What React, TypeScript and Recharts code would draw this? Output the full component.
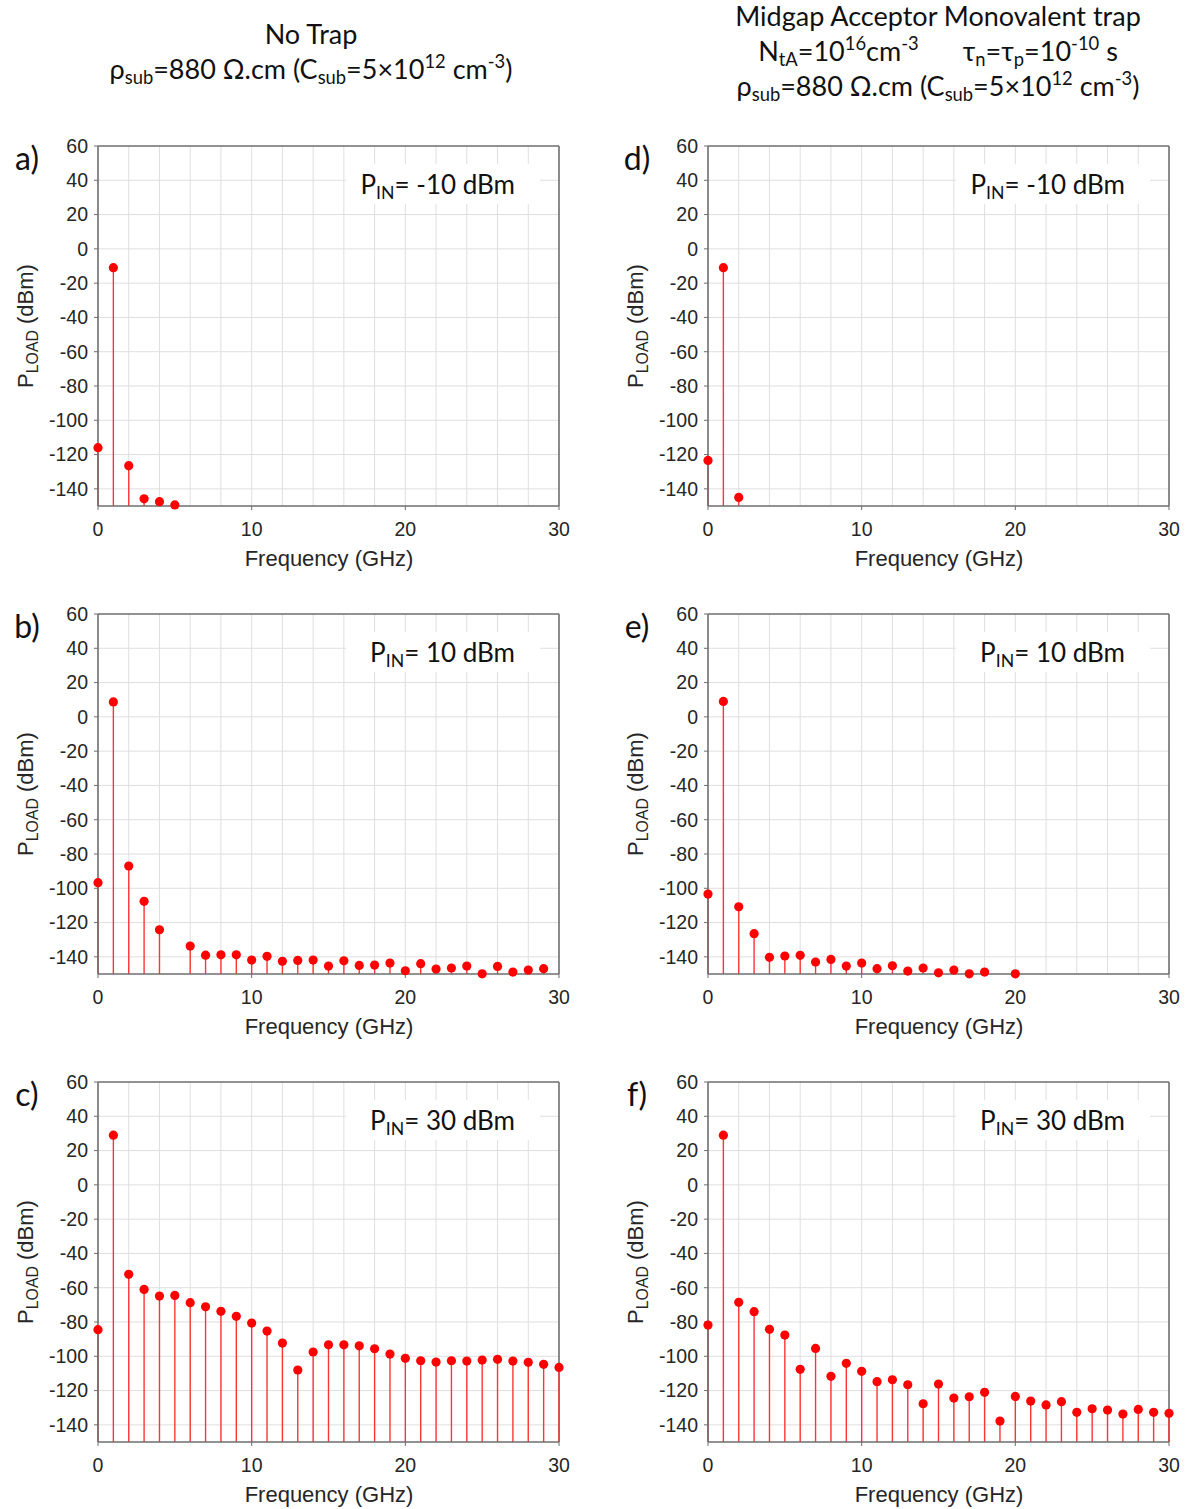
import React from "react";
import { ComposedChart, Scatter, XAxis, YAxis, CartesianGrid, ErrorBar, ReferenceLine } from "recharts";

// axis ticks shared by every panel
const xTicks = [0, 10, 20, 30];
const yTicks = [-140, -120, -100, -80, -60, -40, -20, 0, 20, 40, 60];
const gridFreq = [2, 4, 6, 8, 10, 12, 14, 16, 18, 20, 22, 24, 26, 28];
const gridPow = [-140, -120, -100, -80, -60, -40, -20, 0, 20, 40];
const FLOOR = -150;
const CEIL = 60;
const FMAX = 30;

// a) no trap, PIN = -10 dBm
const freqA = [0, 1, 2, 3, 4, 5];
const powA = [-116, -11, -126.5, -145.8, -147.5, -149.4];

// b) no trap, PIN = 10 dBm
const freqB = [0, 1, 2, 3, 4, 6, 7, 8, 9, 10, 11, 12, 13, 14, 15, 16, 17, 18, 19, 20, 21, 22, 23, 24, 25, 26, 27, 28, 29];
const powB = [
  -96.7, 8.7, -87, -107.6, -124.2, -133.7, -139, -138.8, -138.8, -141.9, -139.7, -142.6, -142.1, -141.9, -145.4,
  -142.3, -145, -144.8, -143.6, -148.1, -144, -147.1, -146.5, -145.4, -149.9, -145.6, -148.9, -147.7, -146.9,
];

// c) no trap, PIN = 30 dBm
const freqC = [0, 1, 2, 3, 4, 5, 6, 7, 8, 9, 10, 11, 12, 13, 14, 15, 16, 17, 18, 19, 20, 21, 22, 23, 24, 25, 26, 27, 28, 29, 30];
const powC = [
  -84.5, 29, -52.2, -61, -64.9, -64.5, -68.7, -71.1, -73.8, -76.7, -80.6, -85.3, -92.3, -108, -97.5, -93.3, -93.3,
  -93.9, -95.6, -98.7, -101.2, -102.6, -103.4, -102.6, -102.8, -102.2, -101.8, -102.8, -103.5, -104.7, -106.5,
];

// d) trap, PIN = -10 dBm
const freqD = [0, 1, 2];
const powD = [-123.4, -11, -145];

// e) trap, PIN = 10 dBm
const freqE = [0, 1, 2, 3, 4, 5, 6, 7, 8, 9, 10, 11, 12, 13, 14, 15, 16, 17, 18, 20];
const powE = [
  -103.4, 9, -110.8, -126.5, -140.3, -139.5, -139.1, -143, -141.5, -145.4, -143.6, -146.9, -145.2, -148.3, -146.5,
  -149.3, -147.7, -149.9, -148.9, -149.9,
];

// f) trap, PIN = 30 dBm
const freqF = [0, 1, 2, 3, 4, 5, 6, 7, 8, 9, 10, 11, 12, 13, 14, 15, 16, 17, 18, 19, 20, 21, 22, 23, 24, 25, 26, 27, 28, 29, 30];
const powF = [
  -81.8, 29, -68.5, -74, -84.3, -87.6, -107.6, -95.4, -111.7, -104.1, -108.8, -114.8, -113.7, -116.6, -127.7, -116.2,
  -124.4, -123.6, -121, -137.8, -123.4, -126.1, -128.4, -126.5, -132.7, -130.6, -131.4, -133.7, -131, -132.7, -133.3,
];

const panels = [
  { letter: "a)", pin: "-10 dBm", freq: freqA, pow: powA, col: 0, row: 0 },
  { letter: "b)", pin: "10 dBm", freq: freqB, pow: powB, col: 0, row: 1 },
  { letter: "c)", pin: "30 dBm", freq: freqC, pow: powC, col: 0, row: 2 },
  { letter: "d)", pin: "-10 dBm", freq: freqD, pow: powD, col: 1, row: 0 },
  { letter: "e)", pin: "10 dBm", freq: freqE, pow: powE, col: 1, row: 1 },
  { letter: "f)", pin: "30 dBm", freq: freqF, pow: powF, col: 1, row: 2 },
];

const AXIS = "#6e6e6e";
const ARIAL = "Liberation Sans, Arial, sans-serif";
const TICK = { fontSize: 19.5, fill: "#262626", fontFamily: ARIAL };
const SANS = "Lato, 'Open Sans', sans-serif";
const sub: React.CSSProperties = { fontSize: "0.68em", verticalAlign: "-0.3em", lineHeight: 0 };
const sup: React.CSSProperties = { fontSize: "0.68em", verticalAlign: "0.55em", lineHeight: 0 };

const centered = (x: number, y: number): React.CSSProperties => ({
  position: "absolute",
  left: x,
  top: y,
  transform: "translate(-50%, -50%)",
  whiteSpace: "nowrap",
});

function Dot(props: any) {
  const { cx, cy } = props;
  if (cx == null || cy == null) return null;
  return <circle cx={cx} cy={cy} r={4.6} fill="#ff0000" />;
}

const NoMark = () => null;

function Panel({ letter, pin, freq, pow, col, row }: any) {
  const data = freq.map((f: number, i: number) => ({ f, p: pow[i], stem: [pow[i] - FLOOR, 0] }));
  const axisLine = { stroke: AXIS, strokeWidth: 1.6 };
  return (
    <div style={{ position: "absolute", left: col * 610, top: 120 + row * 468, width: 600, height: 470 }}>
      <ComposedChart width={600} height={470} margin={{ top: 26, right: 41, bottom: 54, left: 38 }}>
        <CartesianGrid stroke="#dfdfdf" strokeWidth={1} horizontalValues={gridPow} verticalValues={gridFreq} />
        <XAxis
          dataKey="f"
          type="number"
          domain={[0, FMAX]}
          ticks={xTicks}
          height={30}
          tick={TICK}
          tickSize={4}
          tickMargin={12}
          axisLine={axisLine}
          tickLine={{ stroke: AXIS }}
        />
        <XAxis
          xAxisId="top"
          dataKey="f"
          orientation="top"
          type="number"
          domain={[0, FMAX]}
          ticks={xTicks}
          height={0}
          mirror
          tick={false}
          tickSize={5}
          axisLine={axisLine}
          tickLine={{ stroke: AXIS }}
        />
        <YAxis
          dataKey="p"
          type="number"
          domain={[FLOOR, CEIL]}
          ticks={yTicks}
          width={60}
          tick={TICK}
          tickSize={4}
          tickMargin={6}
          axisLine={axisLine}
          tickLine={{ stroke: AXIS }}
        />
        <YAxis
          yAxisId="right"
          dataKey="p"
          orientation="right"
          type="number"
          domain={[FLOOR, CEIL]}
          ticks={yTicks}
          width={0}
          mirror
          tick={false}
          tickSize={5}
          axisLine={axisLine}
          tickLine={{ stroke: AXIS }}
        />
        <ReferenceLine x={FMAX} stroke={AXIS} strokeWidth={1.6} />
        <ReferenceLine y={CEIL} stroke={AXIS} strokeWidth={1.6} />
        <Scatter xAxisId="top" yAxisId="right" data={data} shape={<NoMark />} isAnimationActive={false} />
        <Scatter data={data} shape={<Dot />} isAnimationActive={false}>
          <ErrorBar dataKey="stem" direction="y" width={0} stroke="#ff3535" strokeWidth={1.4} isAnimationActive={false} />
        </Scatter>
      </ComposedChart>

      <div style={{ ...centered(27, 37), fontFamily: SANS, fontSize: 32, color: "#111" }}>{letter}</div>
      <div
        style={{
          position: "absolute",
          left: 346,
          top: 44,
          width: 194,
          height: 40,
          background: "#fff",
          fontFamily: SANS,
          fontSize: 26,
          color: "#111",
          lineHeight: "40px",
          textAlign: "right",
          paddingRight: 25,
          boxSizing: "border-box",
          whiteSpace: "nowrap",
        }}
      >
        P<span style={sub}>IN</span>= {pin}
      </div>
      <div
        style={{
          ...centered(26, 206),
          transform: "translate(-50%, -50%) rotate(-90deg)",
          fontFamily: ARIAL,
          fontSize: 22,
          color: "#262626",
        }}
      >
        P<span style={{ ...sub, fontSize: "0.72em" }}>LOAD</span> (dBm)
      </div>
      <div style={{ ...centered(329, 439), fontFamily: ARIAL, fontSize: 22, color: "#262626" }}>Frequency (GHz)</div>
    </div>
  );
}

export default function App() {
  const title: React.CSSProperties = { fontFamily: SANS, fontSize: 27, color: "#111" };
  return (
    <div style={{ position: "absolute", left: 0, top: 0, width: 1187, height: 1509, background: "#fff" }}>
      <div style={{ ...centered(311, 33), ...title }}>No Trap</div>
      <div style={{ ...centered(311, 68), ...title }}>
        ρ<span style={sub}>sub</span>=880 Ω.cm (C<span style={sub}>sub</span>=5×10<span style={sup}>12</span> cm
        <span style={sup}>-3</span>)
      </div>
      <div style={{ ...centered(938, 15), ...title }}>Midgap Acceptor Monovalent trap</div>
      <div style={{ ...centered(938, 50), ...title }}>
        N<span style={sub}>tA</span>=10<span style={sup}>16</span>cm<span style={sup}>-3</span>
        <span style={{ display: "inline-block", width: 44 }} />τ<span style={sub}>n</span>=τ<span style={sub}>p</span>=10
        <span style={sup}>-10</span> s
      </div>
      <div style={{ ...centered(938, 85), ...title }}>
        ρ<span style={sub}>sub</span>=880 Ω.cm (C<span style={sub}>sub</span>=5×10<span style={sup}>12</span> cm
        <span style={sup}>-3</span>)
      </div>
      {panels.map((p) => (
        <Panel key={p.letter} {...p} />
      ))}
    </div>
  );
}
